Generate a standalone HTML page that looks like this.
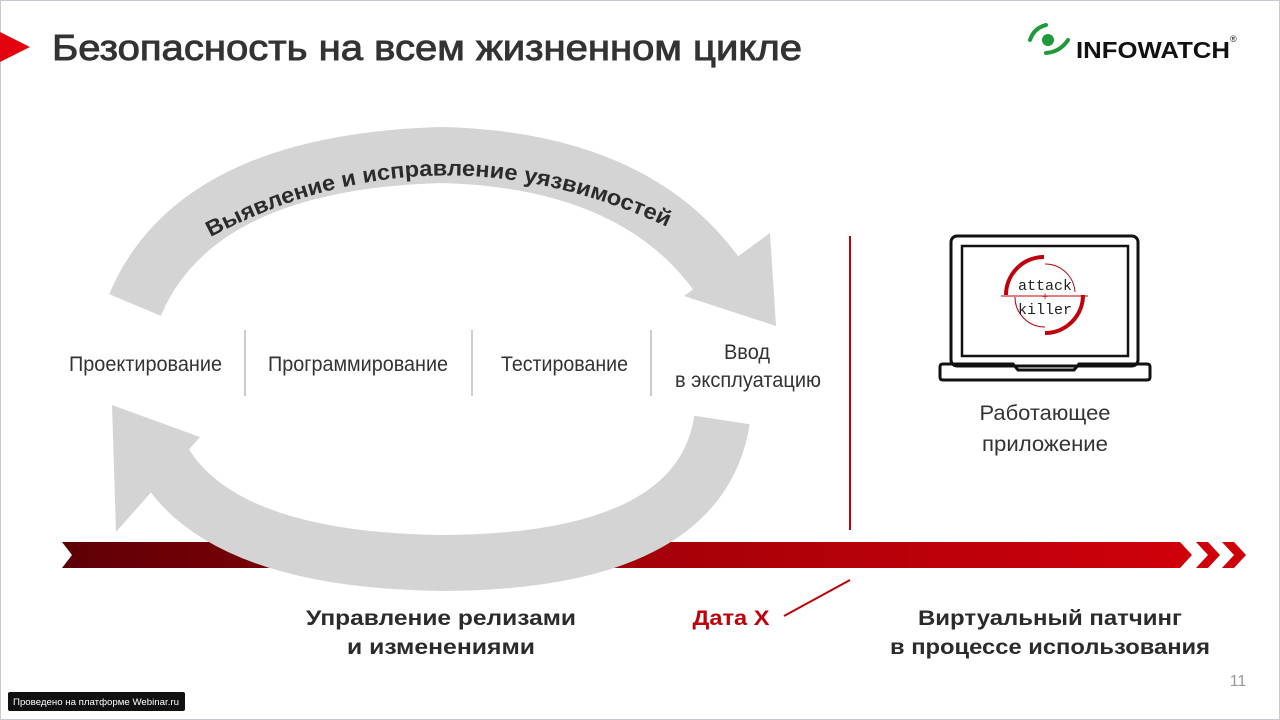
<!DOCTYPE html>
<html><head><meta charset="utf-8"><style>
html,body{margin:0;padding:0;background:#fff;}
svg{display:block;}
</style></head><body>
<svg width="1280" height="720" viewBox="0 0 1280 720" xmlns="http://www.w3.org/2000/svg" font-family="Liberation Sans, DejaVu Sans, sans-serif">
<defs>
<linearGradient id="rg" x1="0" x2="1" y1="0" y2="0">
<stop offset="0" stop-color="#5e0006"/><stop offset="0.5" stop-color="#a30008"/><stop offset="1" stop-color="#d0000a"/>
</linearGradient>
<path id="tp" d="M205,240 Q442,112 690,238"/>
</defs>
<rect x="0" y="0" width="1280" height="720" fill="#fff"/>
<rect x="0.5" y="0.5" width="1279" height="719" fill="none" stroke="#c8c8d0"/>
<polygon points="0,32 30,47 0,62" fill="#e3000f"/>
<text x="52" y="60" font-size="36" fill="#333" stroke="#333" stroke-width="0.9" textLength="750" lengthAdjust="spacingAndGlyphs">Безопасность на всем жизненном цикле</text>
<path d="M1030,40 Q1034,28 1046,25" stroke="#1e9a3a" stroke-width="4" fill="none" stroke-linecap="round"/>
<circle cx="1048" cy="40" r="6" fill="#1e9a3a"/>
<path d="M1046,53 Q1060,52 1068,40" stroke="#1e9a3a" stroke-width="4" fill="none" stroke-linecap="round"/>
<text x="1076" y="58" font-size="23" font-weight="bold" fill="#111" textLength="154" lengthAdjust="spacingAndGlyphs">INFOWATCH</text>
<text x="1230" y="42" font-size="9" fill="#111">®</text>
<polygon points="62,542 1180,542 1192,555 1180,568 62,568 72,555" fill="url(#rg)"/>
<polygon points="1196,542 1208,542 1220,555 1208,568 1196,568 1208,555" fill="#d0000a"/>
<polygon points="1222,542 1234,542 1246,555 1234,568 1222,568 1234,555" fill="#d0000a"/>
<path d="M135,305 Q195,162 442,155 Q640,160 722,282" stroke="#d4d4d4" stroke-width="56" fill="none"/>
<polygon points="770,233 776,326 684,296" fill="#d4d4d4"/>
<text font-size="22" font-weight="bold" fill="#2b2b2b"><textPath href="#tp" startOffset="6" textLength="475" lengthAdjust="spacingAndGlyphs">Выявление и исправление уязвимостей</textPath></text>
<path d="M722,420 Q700,562 442,563 Q215,560 160,455" stroke="#d4d4d4" stroke-width="56" fill="none"/>
<polygon points="112,405 200,437 116,532" fill="#d4d4d4"/>
<g font-size="21" fill="#333">
<text x="69" y="371" textLength="153" lengthAdjust="spacingAndGlyphs">Проектирование</text>
<text x="268" y="371" textLength="180" lengthAdjust="spacingAndGlyphs">Программирование</text>
<text x="501" y="371" textLength="127" lengthAdjust="spacingAndGlyphs">Тестирование</text>
<text x="747" y="359" text-anchor="middle" textLength="46" lengthAdjust="spacingAndGlyphs">Ввод</text>
<text x="675" y="387" textLength="146" lengthAdjust="spacingAndGlyphs">в эксплуатацию</text>
<text x="1045" y="420" text-anchor="middle" textLength="131" lengthAdjust="spacingAndGlyphs">Работающее</text>
<text x="1045" y="451" text-anchor="middle" textLength="126" lengthAdjust="spacingAndGlyphs">приложение</text>
</g>
<g stroke="#bbb" stroke-width="1.5">
<line x1="245" y1="330" x2="245" y2="396"/>
<line x1="472" y1="330" x2="472" y2="396"/>
<line x1="651" y1="330" x2="651" y2="396"/>
</g>
<line x1="850" y1="236" x2="850" y2="530" stroke="#c0000a" stroke-width="2"/>
<line x1="784" y1="616" x2="850" y2="580" stroke="#c0000a" stroke-width="2"/>
<rect x="951" y="236" width="187" height="130" rx="6" fill="none" stroke="#111" stroke-width="3"/>
<rect x="962" y="246" width="166" height="110" fill="none" stroke="#111" stroke-width="2.5"/>
<path d="M943,364 L1013,364 L1018,370 L1074,370 L1079,364 L1147,364 Q1150,364 1150,367 L1150,377 Q1150,380 1147,380 L943,380 Q940,380 940,377 L940,367 Q940,364 943,364 Z" fill="none" stroke="#111" stroke-width="3"/>
<path d="M1006,295 A38,38 0 0 1 1044,257" stroke="#c0000a" stroke-width="4" fill="none"/>
<path d="M1083,295 A38,38 0 0 1 1045,333" stroke="#c0000a" stroke-width="4" fill="none"/>
<path d="M1045,264 A30,30 0 0 1 1075,292" stroke="#c0000a" stroke-width="1" fill="none"/>
<path d="M1015,297 A30,30 0 0 0 1045,327" stroke="#c0000a" stroke-width="1" fill="none"/>
<line x1="1001" y1="296" x2="1088" y2="296" stroke="#c0000a" stroke-width="1"/>
<text x="1045" y="290" font-family="Liberation Mono, monospace" font-size="15" text-anchor="middle" fill="#222">attack</text>
<text x="1045" y="300" font-family="Liberation Mono, monospace" font-size="11" text-anchor="middle" fill="#c0000a">+</text>
<text x="1045" y="314" font-family="Liberation Mono, monospace" font-size="15" text-anchor="middle" fill="#222">killer</text>
<g font-size="21" font-weight="bold" fill="#2b2b2b" text-anchor="middle">
<text x="441" y="625" textLength="270" lengthAdjust="spacingAndGlyphs">Управление релизами</text>
<text x="441" y="654" textLength="188" lengthAdjust="spacingAndGlyphs">и изменениями</text>
<text x="1050" y="625" textLength="264" lengthAdjust="spacingAndGlyphs">Виртуальный патчинг</text>
<text x="1050" y="654" textLength="320" lengthAdjust="spacingAndGlyphs">в процессе использования</text>
<text x="731" y="625" fill="#c0000a" textLength="77" lengthAdjust="spacingAndGlyphs">Дата X</text>
</g>
<text x="1238" y="686" font-size="16" fill="#999" text-anchor="middle">11</text>
<rect x="8" y="692" width="177" height="19" rx="2" fill="#111"/>
<text x="13" y="705" font-size="9" fill="#fff" textLength="166" lengthAdjust="spacingAndGlyphs">Проведено на платформе Webinar.ru</text>
</svg>
</body></html>
